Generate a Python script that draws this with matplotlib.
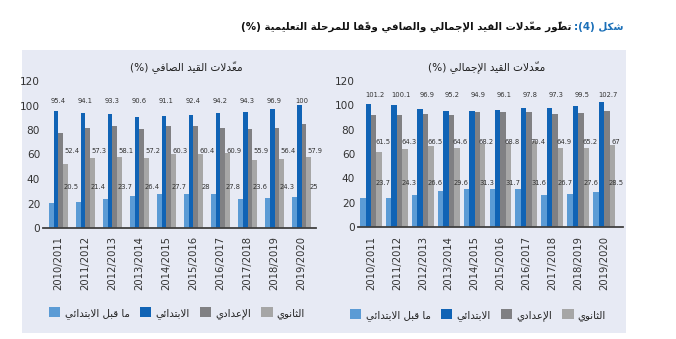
import matplotlib
matplotlib.use('Agg')
import matplotlib.pyplot as plt
from matplotlib.patches import Rectangle, Patch
import numpy as np

# ---------------- data ----------------
years = ['2010/2011', '2011/2012', '2012/2013', '2013/2014', '2014/2015',
         '2015/2016', '2016/2017', '2017/2018', '2018/2019', '2019/2020']

gross_pre = [23.7, 24.3, 26.6, 29.6, 31.3, 31.7, 31.6, 26.7, 27.6, 28.5]
gross_primary = [101.2, 100.1, 96.9, 95.2, 94.9, 96.1, 97.8, 97.3, 99.5, 102.7]
gross_prep = [92.2, 91.9, 93.1, 92.2, 94.7, 94.2, 94.5, 92.6, 93.2, 95.3]
gross_sec = [61.5, 64.3, 66.5, 64.6, 68.2, 68.8, 70.4, 64.9, 65.2, 67]

net_pre = [20.5, 21.4, 23.7, 26.4, 27.7, 28, 27.8, 23.6, 24.3, 25]
net_primary = [95.4, 94.1, 93.3, 90.6, 91.1, 92.4, 94.2, 94.3, 96.9, 100]
net_prep = [77.3, 81.5, 83.0, 81.1, 83.3, 82.9, 81.8, 80.5, 82.0, 85.3]
net_sec = [52.4, 57.3, 58.1, 57.2, 60.3, 60.4, 60.9, 55.9, 56.4, 57.9]

series_names = ['ما قبل الابتدائي', 'الابتدائي', 'الإعدادي', 'الثانوي']
title_lead = 'شكل (4):'
title_rest = 'تطوّر معدّلات القيد الإجمالي والصافي وفقًا للمرحلة التعليمية (%)'
gross_title = 'معدّلات القيد الإجمالي (%)'
net_title = 'معدّلات القيد الصافي (%)'
yticks = [0, 20, 40, 60, 80, 100, 120]

# ---------------- minimal Arabic shaping (presentation forms + RTL order) ----------------
_SEQ = [('\u0621', 1), ('\u0622', 2), ('\u0623', 2), ('\u0624', 2), ('\u0625', 2),
        ('\u0626', 4), ('\u0627', 2), ('\u0628', 4), ('\u0629', 2), ('\u062A', 4),
        ('\u062B', 4), ('\u062C', 4), ('\u062D', 4), ('\u062E', 4), ('\u062F', 2),
        ('\u0630', 2), ('\u0631', 2), ('\u0632', 2), ('\u0633', 4), ('\u0634', 4),
        ('\u0635', 4), ('\u0636', 4), ('\u0637', 4), ('\u0638', 4), ('\u0639', 4),
        ('\u063A', 4), ('\u0641', 4), ('\u0642', 4), ('\u0643', 4), ('\u0644', 4),
        ('\u0645', 4), ('\u0646', 4), ('\u0647', 4), ('\u0648', 2), ('\u0649', 2),
        ('\u064A', 4)]
FORMS = {}
_code = 0xFE80
for _ch, _nf in _SEQ:
    FORMS[_ch] = (_code, _nf)
    _code += _nf
LAMALEF = {'\u0622': 0xFEF5, '\u0623': 0xFEF7, '\u0625': 0xFEF9, '\u0627': 0xFEFB}
MIRROR = {'(': ')', ')': '('}


def _is_diac(c):
    return '\u064B' <= c <= '\u0652' or c == '\u0670'


def ar(s):
    n = len(s)
    clusters = []

    def prev_joins(i):
        j = i - 1
        while j >= 0 and _is_diac(s[j]):
            j -= 1
        return j >= 0 and s[j] in FORMS and FORMS[s[j]][1] == 4

    def next_idx(i):
        k = i + 1
        while k < n and _is_diac(s[k]):
            k += 1
        return k

    i = 0
    while i < n:
        c = s[i]
        if c in FORMS:
            base, nf = FORMS[c]
            pj = prev_joins(i)
            k = next_idx(i)
            if c == '\u0644' and k < n and s[k] in LAMALEF:
                cl = chr(LAMALEF[s[k]] + (1 if pj else 0)) + s[i + 1:k]
                i = k + 1
                while i < n and _is_diac(s[i]):
                    cl += s[i]
                    i += 1
                clusters.append(cl)
                continue
            nj = nf == 4 and k < n and s[k] in FORMS
            if pj and nj:
                g = base + 3
            elif pj:
                g = base + 1 if nf >= 2 else base
            elif nj:
                g = base + 2
            else:
                g = base
            cl = chr(g)
            i += 1
            while i < n and _is_diac(s[i]):
                cl += s[i]
                i += 1
            clusters.append(cl)
        else:
            clusters.append(c)
            i += 1
    tokens = []
    for cl in clusters:
        if cl.isdigit():
            if tokens and isinstance(tokens[-1], list):
                tokens[-1].append(cl)
            else:
                tokens.append([cl])
        else:
            tokens.append(cl)
    out = []
    for t in reversed(tokens):
        out.append(''.join(t) if isinstance(t, list) else MIRROR.get(t, t))
    return ''.join(out)


# ---------------- style ----------------
plt.rcParams['font.family'] = ['DejaVu Sans']
colors = ['#5B9BD5', '#1063B5', '#808083', '#A6A6A6']
W, H = 676, 339
fig = plt.figure(figsize=(W / 100, H / 100), dpi=100)
fig.patch.set_facecolor('white')

# panel background
fig.add_artist(Rectangle((22 / W, 1 - 333 / H), 604 / W, 283 / H,
                         transform=fig.transFigure, facecolor='#E7EAF4',
                         edgecolor='none', zorder=0))


def draw_panel(rect, xlim, bw, pre, prim, prep, sec, lab_y, lab_dx):
    ax = fig.add_axes(rect)
    ax.set_facecolor('none')
    x = np.arange(len(years))
    vals = [pre, prim, prep, sec]
    for k, (v, c) in enumerate(zip(vals, colors)):
        ax.bar(x + (k - 1.5) * bw, v, width=bw, color=c, linewidth=0, zorder=2)
    # value labels (primary, secondary, pre-primary) at fixed rows
    for xi in x:
        ax.text(xi + lab_dx[0], lab_y[0], f'{prim[xi]:g}', ha='center', va='center',
                fontsize=4.9, color='#333333')
        ax.text(xi + lab_dx[1], lab_y[1], f'{sec[xi]:g}', ha='center', va='center',
                fontsize=4.9, color='#333333')
        ax.text(xi + lab_dx[2], lab_y[2], f'{pre[xi]:g}', ha='center', va='center',
                fontsize=4.9, color='#333333')
    ax.set_xlim(*xlim)
    ax.set_ylim(0, 120)
    ax.set_yticks(yticks)
    ax.set_xticks(x)
    ax.set_xticklabels(years, rotation=90, fontsize=7.2, color='#333333')
    ax.tick_params(axis='y', length=0, pad=2, labelsize=7.6, labelcolor='#333333')
    ax.tick_params(axis='x', length=0, pad=6)
    for sp in ['left', 'right', 'top']:
        ax.spines[sp].set_visible(False)
    ax.spines['bottom'].set_color('#404040')
    ax.spines['bottom'].set_linewidth(1.3)
    return ax


axL = draw_panel([43 / W, 1 - 228 / H, 273 / W, 147 / H], (-0.574, 9.537), 0.18,
                 net_pre, net_primary, net_prep, net_sec,
                 (103.7, 63.1, 33.7), (0.0, 0.5, 0.47))
axR = draw_panel([358 / W, 1 - 227.3 / H, 265 / W, 146.6 / H], (-0.50, 9.73), 0.21,
                 gross_pre, gross_primary, gross_prep, gross_sec,
                 (108.6, 69.8, 36.6), (0.15, 0.46, 0.48))

# panel titles
fig.text(186 / W, 1 - 67 / H, ar(net_title), ha='center', va='center',
         fontsize=7.6, color='#222222')
fig.text(487 / W, 1 - 67 / H, ar(gross_title), ha='center', va='center',
         fontsize=7.6, color='#222222')

# legends
handles = [Patch(facecolor=c, edgecolor='none') for c in colors]
labels = [ar(s) for s in series_names]
for cx, cy in [(177 / W, 1 - 313 / H), (478 / W, 1 - 315 / H)]:
    fig.legend(handles, labels, loc='center', bbox_to_anchor=(cx, cy), ncol=4,
               frameon=False, fontsize=7.4, handlelength=1.1, handleheight=1.0,
               handletextpad=0.4, columnspacing=1.0, borderpad=0,
               labelcolor='#222222')

# main title (blue lead + black rest)
t1 = fig.text(624 / W, 1 - 30 / H, ar(title_lead), ha='right', va='baseline',
              fontsize=7.4, fontweight='bold', color='#1A6FB8')
fig.canvas.draw()
bb = t1.get_window_extent()
fig.text((bb.x0 - 3) / W, 1 - 30 / H, ar(title_rest), ha='right', va='baseline',
         fontsize=7.4, fontweight='bold', color='#111111')

fig.savefig('out.png', dpi=100, facecolor='white')
